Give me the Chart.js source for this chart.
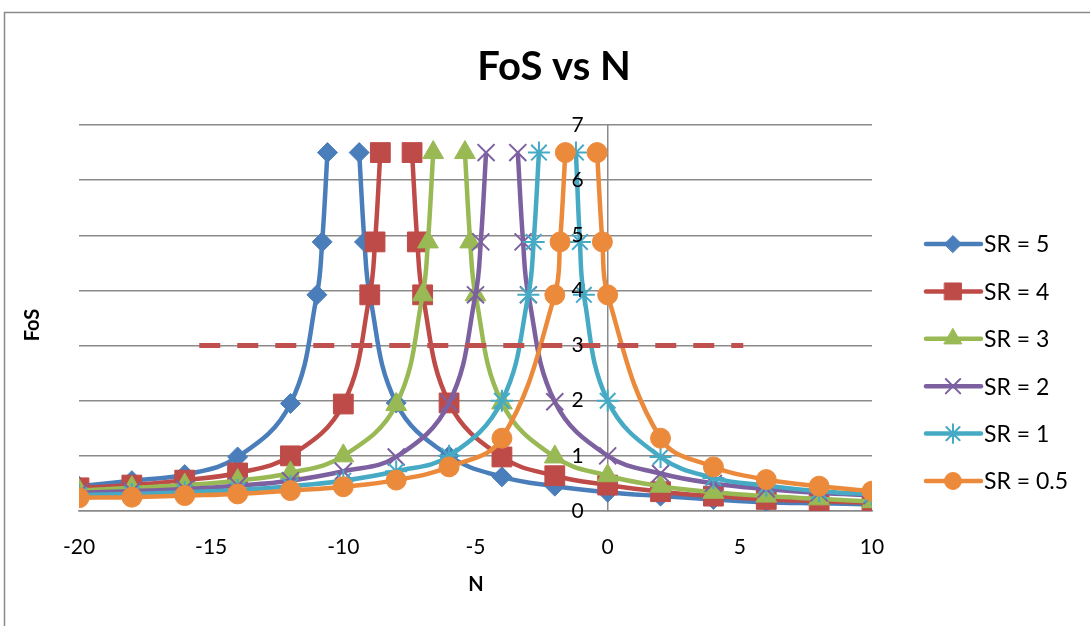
<!DOCTYPE html>
<html lang="en">
<head>
  <meta charset="UTF-8">
  <title>FoS vs N</title>
  <style>
    body {
      margin: 0;
      background-color: #fff;
      font-family: Lato, sans-serif;
    }
    #wrap {
      position: relative;
      width: 1090px;
      height: 626px;
    }
  </style>
</head>
<body>
  <div id="wrap"><canvas id="chart" width="1090" height="626"></canvas></div>

  <script src="https://cdn.jsdelivr.net/npm/chart.js"></script>
  <script>
    // values; null = break in the curve
    const sr5N   = [-20, -18, -16, -14, -12, -11, -10.8, -10.6, -10, -9.4, -9.2, -9, -8, -6, -4, -2, 0, 2, 4, 6, 8, 10];
    const sr5FoS = [0.45, 0.55, 0.66, 0.98, 1.95, 3.92, 4.88, 6.5, null, 6.5, 4.88, 3.92, 1.96, 1.0, 0.62, 0.45, 0.34, 0.27, 0.21, 0.16, 0.14, 0.12];

    const sr4N   = [-20, -18, -16, -14, -12, -10, -9, -8.8, -8.6, -8, -7.4, -7.2, -7, -6, -4, -2, 0, 2, 4, 6, 8, 10];
    const sr4FoS = [0.42, 0.47, 0.56, 0.69, 1.0, 1.94, 3.92, 4.88, 6.5, null, 6.5, 4.88, 3.92, 1.96, 0.98, 0.64, 0.47, 0.35, 0.27, 0.21, 0.18, 0.15];

    const sr3N   = [-20, -18, -16, -14, -12, -10, -8, -7, -6.8, -6.6, -6, -5.4, -5.2, -5, -4, -2, 0, 2, 4, 6, 8, 10];
    const sr3FoS = [0.37, 0.42, 0.47, 0.55, 0.69, 1.0, 1.93, 3.92, 4.88, 6.5, null, 6.5, 4.88, 3.92, 1.96, 0.98, 0.64, 0.45, 0.34, 0.27, 0.22, 0.17];

    const sr2N   = [-20, -18, -16, -14, -12, -10, -8, -6, -5, -4.8, -4.6, -4, -3.4, -3.2, -3, -2, 0, 2, 4, 6, 8, 10];
    const sr2FoS = [0.33, 0.36, 0.4, 0.46, 0.55, 0.72, 0.98, 1.96, 3.92, 4.88, 6.5, null, 6.5, 4.88, 3.92, 1.98, 1.0, 0.68, 0.5, 0.4, 0.33, 0.28];

    const sr1N   = [-20, -18, -16, -14, -12, -10, -8, -6, -4, -3, -2.8, -2.6, -2, -1.2, -1.05, -0.9, 0, 2, 4, 6, 8, 10];
    const sr1FoS = [0.29, 0.31, 0.34, 0.38, 0.45, 0.55, 0.72, 1.0, 2.0, 3.92, 4.88, 6.5, null, 6.5, 4.88, 3.92, 2.0, 0.98, 0.6, 0.46, 0.36, 0.3];

    const sr05N   = [-20, -18, -16, -14, -12, -10, -8, -6, -4, -2, -1.8, -1.6, -1, -0.4, -0.2, 0, 2, 4, 6, 8, 10];
    const sr05FoS = [0.24, 0.25, 0.28, 0.31, 0.37, 0.44, 0.56, 0.8, 1.32, 3.92, 4.88, 6.5, null, 6.5, 4.88, 3.92, 1.32, 0.8, 0.57, 0.45, 0.36];

    // dashed limit line
    const limitN   = [-15.45, 5.13];
    const limitFoS = [3, 3];

    const seriesLabels = ['SR = 5', 'SR = 4', 'SR = 3', 'SR = 2', 'SR = 1', 'SR = 0.5'];
    const seriesColors = ['#4A7EBB', '#BE4B48', '#98B954', '#7D60A0', '#46AAC5', '#EC8A3C'];
    const seriesMarkers = ['rectRot', 'rect', 'triangle', 'crossRot', 'star', 'circle'];
    const markerSizes = [10, 14, 12, 12, 11, 10];

    function pts(xs, ys) {
      return xs.map((x, i) => ({ x: x, y: ys[i] }));
    }

    const seriesData = [
      pts(sr5N, sr5FoS), pts(sr4N, sr4FoS), pts(sr3N, sr3FoS),
      pts(sr2N, sr2FoS), pts(sr1N, sr1FoS), pts(sr05N, sr05FoS)
    ];

    const datasets = seriesData.map((d, i) => ({
      label: seriesLabels[i],
      data: d,
      showLine: true,
      spanGaps: false,
      tension: 0.4,
      borderColor: seriesColors[i],
      backgroundColor: seriesColors[i],
      borderWidth: 4.5,
      pointStyle: seriesMarkers[i],
      pointRadius: markerSizes[i],
      pointHoverRadius: markerSizes[i],
      pointBorderColor: seriesColors[i],
      pointBackgroundColor: seriesColors[i],
      pointBorderWidth: (seriesMarkers[i] === 'crossRot' || seriesMarkers[i] === 'star') ? 2 : 1,
      order: 6 - i
    }));

    datasets.push({
      label: 'limit',
      data: pts(limitN, limitFoS),
      showLine: true,
      borderColor: '#C0504D',
      borderWidth: 5,
      borderDash: [21, 17],
      pointRadius: 0,
      order: 0
    });

    // frame, titles, y tick labels beside the crossing axis and the excel style legend
    const decorations = {
      id: 'decorations',
      beforeDraw(chart) {
        const ctx = chart.ctx;
        ctx.save();
        ctx.strokeStyle = '#8a8a8a';
        ctx.lineWidth = 1.5;
        ctx.strokeRect(4.5, 12.5, 2000, 2000);
        ctx.restore();
      },
      afterDraw(chart) {
        const ctx = chart.ctx;
        const xs = chart.scales.x, ys = chart.scales.y;
        ctx.save();
        ctx.fillStyle = '#000';
        ctx.textAlign = 'center';
        ctx.textBaseline = 'middle';
        ctx.font = 'bold 40px Lato';
        ctx.fillText('FoS vs N', 554, 67);
        ctx.font = 'bold 20px Lato';
        ctx.fillText('N', 476, 585);

        // y tick labels sit left of the axis line at N = 0
        ctx.font = '21px Lato';
        ctx.textAlign = 'right';
        const axisX = xs.getPixelForValue(0);
        ys.ticks.forEach(t => {
          ctx.fillText(String(t.value), axisX - 24, ys.getPixelForValue(t.value));
        });

        ctx.textAlign = 'center';
        ctx.font = 'bold 20px Lato';
        ctx.translate(33, 325);
        ctx.rotate(-Math.PI / 2);
        ctx.fillText('FoS', 0, 0);
        ctx.restore();

        // legend
        ctx.save();
        const top = 244, gap = 47.4;
        seriesLabels.forEach((lbl, i) => {
          const y = top + i * gap;
          ctx.strokeStyle = seriesColors[i];
          ctx.lineWidth = 4.5;
          ctx.lineCap = 'round';
          ctx.beginPath();
          ctx.moveTo(926, y);
          ctx.lineTo(981, y);
          ctx.stroke();
          ctx.fillStyle = seriesColors[i];
          ctx.lineWidth = (seriesMarkers[i] === 'crossRot' || seriesMarkers[i] === 'star') ? 2 : 1;
          Chart.helpers.drawPoint(ctx, {
            pointStyle: seriesMarkers[i],
            radius: markerSizes[i] * 0.85,
            rotation: 0,
            borderWidth: ctx.lineWidth
          }, 953, y);
          ctx.fillStyle = '#000';
          ctx.font = '23px Lato';
          ctx.textAlign = 'left';
          ctx.textBaseline = 'middle';
          ctx.fillText(lbl, 984, y + 1);
        });
        ctx.restore();
      }
    };

    new Chart(document.getElementById('chart'), {
      type: 'scatter',
      data: { datasets: datasets },
      plugins: [decorations],
      options: {
        responsive: false,
        animation: false,
        layout: {
          padding: { left: 79, right: 218, top: 125, bottom: 65 }
        },
        plugins: {
          legend: { display: false },
          title: { display: false },
          tooltip: { enabled: false }
        },
        scales: {
          x: {
            type: 'linear',
            min: -20,
            max: 10,
            ticks: {
              stepSize: 5,
              color: '#000',
              font: { family: 'Lato', size: 21 },
              padding: 24,
              maxRotation: 0
            },
            grid: { display: false, drawTicks: false },
            border: { display: true, color: '#8a8a8a', width: 1.5 },
            afterFit(scale) { scale.height = 50; }
          },
          y: {
            type: 'linear',
            min: 0,
            max: 7,
            position: { x: 0 },
            ticks: { stepSize: 1, display: false },
            grid: { color: '#8a8a8a', lineWidth: 1.5, drawTicks: false },
            border: { display: true, color: '#8a8a8a', width: 1.5 }
          }
        }
      }
    });
  </script>
</body>
</html>
